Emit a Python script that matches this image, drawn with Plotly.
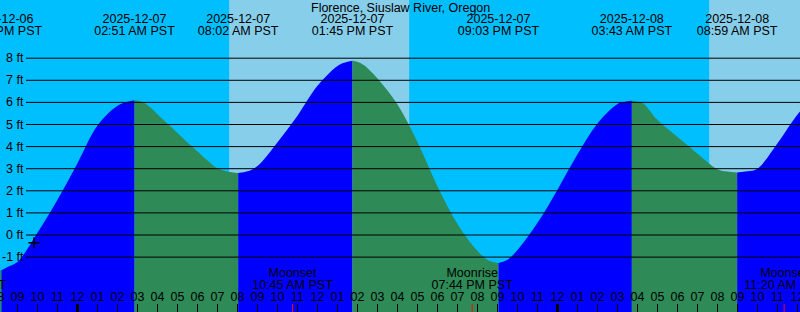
import pandas as pd
import plotly.graph_objects as go

# ---------------- data ----------------
station = "Florence, Siuslaw River, Oregon"

# tide extremes (PST) and heights (ft)
extreme_times = ["2025-12-06 20:12", "2025-12-07 02:51", "2025-12-07 08:02",
                 "2025-12-07 13:45", "2025-12-07 21:03", "2025-12-08 03:43",
                 "2025-12-08 08:59"]
extreme_ft = [-1.60, 6.10, 2.80, 7.88, -1.27, 6.07, 2.83]

# tide heights (ft)
reading_times = ["2025-12-06 20:00", "2025-12-06 20:30", "2025-12-06 21:00", "2025-12-06 22:00",
                 "2025-12-06 23:00", "2025-12-07 00:00", "2025-12-07 01:00", "2025-12-07 02:00",
                 "2025-12-07 02:30", "2025-12-07 03:15", "2025-12-07 03:40", "2025-12-07 04:00",
                 "2025-12-07 05:00", "2025-12-07 06:00", "2025-12-07 07:00", "2025-12-07 07:30",
                 "2025-12-07 08:30", "2025-12-07 09:00", "2025-12-07 10:00", "2025-12-07 11:00",
                 "2025-12-07 12:00", "2025-12-07 13:00", "2025-12-07 13:20", "2025-12-07 14:05",
                 "2025-12-07 14:20", "2025-12-07 15:00", "2025-12-07 16:00", "2025-12-07 17:00",
                 "2025-12-07 18:00", "2025-12-07 19:00", "2025-12-07 20:00", "2025-12-07 20:35",
                 "2025-12-07 21:30", "2025-12-07 22:00", "2025-12-07 23:00", "2025-12-08 00:00",
                 "2025-12-08 01:00", "2025-12-08 02:00", "2025-12-08 03:00", "2025-12-08 03:20",
                 "2025-12-08 04:05", "2025-12-08 04:20", "2025-12-08 05:00", "2025-12-08 06:00",
                 "2025-12-08 07:00", "2025-12-08 08:00", "2025-12-08 08:30", "2025-12-08 09:30",
                 "2025-12-08 10:00", "2025-12-08 11:00", "2025-12-08 12:00", "2025-12-08 12:30"]
reading_ft = [-1.59, -1.45, -1.22, 0.10,
              1.60, 3.25, 4.95, 5.85,
              6.03, 6.02, 5.76, 5.46,
              4.62, 3.78, 3.02, 2.87,
              2.88, 3.12, 4.20, 5.40,
              6.75, 7.65, 7.79, 7.81,
              7.68, 7.08, 5.90, 4.20,
              2.20, 0.50, -0.72, -1.17,
              -1.12, -0.68, 0.55, 2.05,
              3.65, 5.05, 5.93, 6.02,
              6.02, 5.92, 5.20, 4.43,
              3.68, 2.98, 2.87, 2.88,
              3.00, 4.15, 5.45, 5.95]

# daylight periods
day_starts = ["2025-12-07 07:35", "2025-12-08 07:35"]
day_ends = ["2025-12-07 16:35", "2025-12-08 16:35"]

# moon events
moon_times = ["2025-12-06 18:24", "2025-12-07 10:45", "2025-12-07 19:44", "2025-12-08 11:20"]
moon_events = ["Moonrise", "Moonset", "Moonrise", "Moonset"]

# marker "+"
mark_times = ["2025-12-06 21:49:30"]
mark_ft = [-0.35]

# height tick values
ft_ticks = [-1, 0, 1, 2, 3, 4, 5, 6, 7, 8]

# hourly ticks and their labels
hour_ticks = pd.date_range("2025-12-06 20:00", "2025-12-08 13:00", freq="h")
hour_labels = [t.strftime("%I") for t in hour_ticks]
midnights = ["2025-12-07 00:00", "2025-12-08 00:00"]

# ---------------- style ----------------
NIGHT = "#00BFFF"
DAY = "#87CEEB"
RISE = "#0000FF"
FALL = "#2E8B57"
FONT = dict(family="Liberation Sans, Arial, sans-serif", size=12.5, color="black")
W, H = 800, 312
X_RANGE = ["2025-12-06 20:07:30", "2025-12-08 12:07:30"]
Y_RANGE = [-3.484, 10.633]
BASE = -4.5

fig = go.Figure()

# ---- tide curve, split at extremes ----
rt = list(pd.to_datetime(reading_times))
et = list(pd.to_datetime(extreme_times))
pts = sorted(list(zip(rt, reading_ft)) + list(zip(et, extreme_ft)), key=lambda p: p[0])
ext_set = set(et)
segments, cur = [], []
for t, v in pts:
    cur.append((t, v))
    if t in ext_set:
        segments.append(cur)
        cur = [(t, v)]
segments.append(cur)

for seg in segments:
    if len(seg) < 2:
        continue
    xs = [p[0] for p in seg]
    ys = [p[1] for p in seg]
    color = RISE if ys[-1] > ys[0] else FALL
    fig.add_trace(go.Scatter(x=[xs[0], xs[-1]], y=[BASE, BASE], mode="lines",
                             line=dict(width=0), hoverinfo="skip", showlegend=False))
    fig.add_trace(go.Scatter(x=xs, y=ys, mode="lines",
                             line=dict(width=0, shape="spline", smoothing=1.0),
                             fill="tonexty", fillcolor=color,
                             hoverinfo="skip", showlegend=False))

# ---- "+" marker ----
fig.add_trace(go.Scatter(x=mark_times, y=mark_ft, mode="markers",
                         marker=dict(symbol="cross-thin", size=8,
                                     line=dict(width=1.5, color="black")),
                         hoverinfo="skip", showlegend=False))

# ---- texts on a pixel-based y axis ----
ext_dates = [t.strftime("%Y-%m-%d") for t in et]
ext_clock = [t.strftime("%I:%M %p PST") for t in et]
mt = list(pd.to_datetime(moon_times))
moon_clock = [t.strftime("%I:%M %p PST") for t in mt]


def text_row(xs, texts, ypix):
    fig.add_trace(go.Scatter(x=xs, y=[ypix] * len(xs), text=texts, mode="text",
                             textposition="middle center", textfont=FONT,
                             yaxis="y2", cliponaxis=True,
                             hoverinfo="skip", showlegend=False))


text_row(et, ext_dates, 19.5)
text_row(et, ext_clock, 31.5)
text_row(mt, moon_events, 274)
text_row(mt, moon_clock, 285.5)
text_row(list(hour_ticks), hour_labels, 297.7)

shapes = []
# daylight backgrounds
for s, e in zip(day_starts, day_ends):
    shapes.append(dict(type="rect", xref="x", yref="paper", x0=s, x1=e, y0=0, y1=1,
                       fillcolor=DAY, line=dict(width=0), layer="below"))
# grid lines
for v in ft_ticks:
    shapes.append(dict(type="line", xref="paper", yref="y", x0=26 / W, x1=1, y0=v, y1=v,
                       line=dict(color="black", width=1), layer="above"))
# midnight ticks
for m in midnights:
    shapes.append(dict(type="line", xref="x", yref="paper", x0=m, x1=m, y0=0, y1=8 / H,
                       line=dict(color="black", width=3), layer="above"))
# moon ticks
for m in moon_times:
    shapes.append(dict(type="line", xref="x", yref="paper", x0=m, x1=m, y0=0, y1=8 / H,
                       line=dict(color="red", width=1), layer="above"))

annotations = [dict(text=station, xref="paper", yref="paper", x=0.5, y=1 - 7.5 / H,
                    xanchor="center", yanchor="middle", showarrow=False, font=FONT)]
for v in ft_ticks:
    annotations.append(dict(text=f"{v} ft", xref="paper", yref="y", x=24.5 / W, y=v,
                            xanchor="right", yanchor="middle", showarrow=False, font=FONT,
                            borderpad=0))

fig.update_layout(
    width=W, height=H, margin=dict(l=0, r=0, t=0, b=0, pad=0),
    paper_bgcolor=NIGHT, plot_bgcolor=NIGHT,
    showlegend=False, shapes=shapes, annotations=annotations,
    xaxis=dict(type="date", range=X_RANGE, showgrid=False, zeroline=False, showline=False,
               tickmode="array", tickvals=list(hour_ticks), showticklabels=False,
               ticks="inside", ticklen=8, tickwidth=1, tickcolor="black", fixedrange=True),
    yaxis=dict(range=Y_RANGE, visible=False, showgrid=False, zeroline=False, fixedrange=True),
    yaxis2=dict(range=[H, 0], overlaying="y", visible=False, showgrid=False,
                zeroline=False, fixedrange=True),
)

fig.write_html("out.html", config={"displayModeBar": False})
